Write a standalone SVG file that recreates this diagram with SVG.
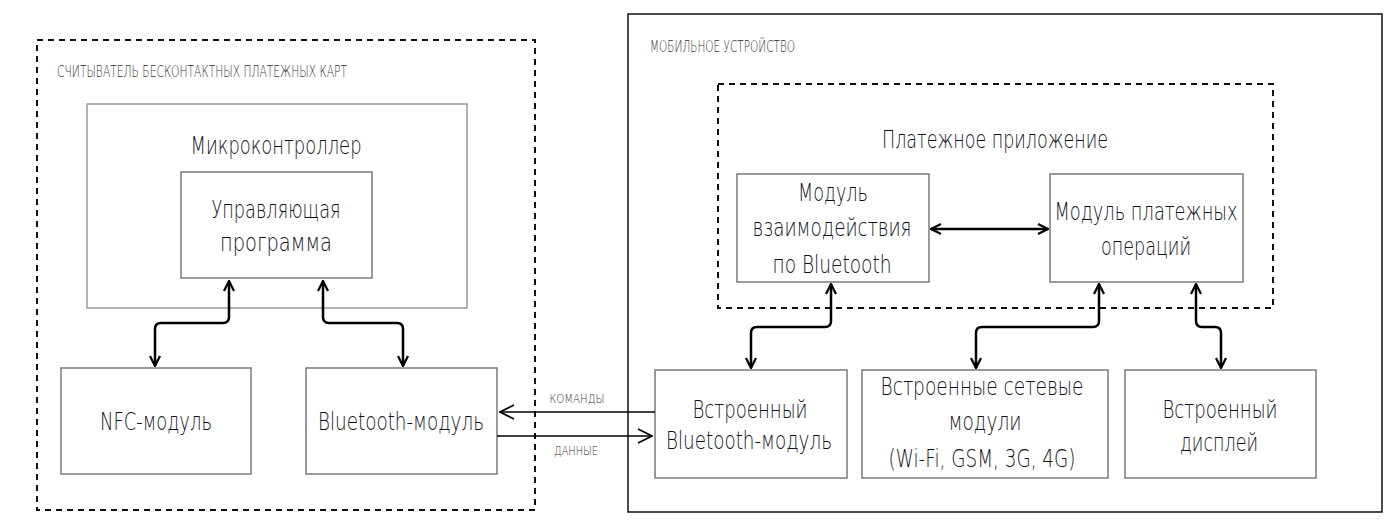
<svg xmlns="http://www.w3.org/2000/svg" width="1388" height="527" viewBox="0 0 1388 527">
<style>
text{font-family:"DejaVu Sans","Liberation Sans Narrow","Liberation Sans",sans-serif;fill:#111122;}
.t{font-size:24px;text-anchor:middle;font-weight:200;}
.s{font-size:16px;fill:#333;font-weight:200;}
.sm{font-size:13px;fill:#333;text-anchor:middle;font-weight:200;}
.box{fill:#fff;stroke:#666;stroke-width:1.3;}
.lbox{fill:#fff;stroke:#999;stroke-width:1.5;}
.dash{fill:none;stroke:#111;stroke-width:2;stroke-dasharray:6,5;}
.solid{fill:none;stroke:#111;stroke-width:1.5;}
.c{fill:none;stroke:#000;stroke-width:2.5;stroke-linejoin:round;}
.c2{fill:none;stroke:#000;stroke-width:1.5;}
</style>
<defs>
<marker id="a" viewBox="0 0 12 12" refX="11" refY="6" markerWidth="12" markerHeight="12" markerUnits="userSpaceOnUse" orient="auto-start-reverse">
<path d="M1,1 L11,6 L1,11" fill="none" stroke="#000" stroke-width="2.2"/>
</marker>
<marker id="b" viewBox="0 0 16 16" refX="15" refY="8" markerWidth="16" markerHeight="16" markerUnits="userSpaceOnUse" orient="auto-start-reverse">
<path d="M1,1 L15,8 L1,15" fill="none" stroke="#000" stroke-width="1.6"/>
</marker>
</defs>
<rect width="1388" height="527" fill="#fff"/>

<g id="reader">
<rect x="37" y="40" width="498" height="470" class="dash"/>
<text x="57" y="77" class="s" textLength="290" lengthAdjust="spacingAndGlyphs">СЧИТЫВАТЕЛЬ БЕСКОНТАКТНЫХ ПЛАТЕЖНЫХ КАРТ</text>
</g>
<g id="mcu">
<rect x="87" y="104" width="380" height="204" class="lbox"/>
<text x="276" y="154" class="t" textLength="171" lengthAdjust="spacingAndGlyphs">Микроконтроллер</text>
</g>
<g id="program">
<rect x="181" y="172" width="191" height="106" class="box"/>
<text x="276" y="218" class="t" textLength="129" lengthAdjust="spacingAndGlyphs">Управляющая</text>
<text x="276" y="251" class="t" textLength="112" lengthAdjust="spacingAndGlyphs">программа</text>
</g>
<g id="nfc">
<rect x="61" y="368" width="190" height="106" class="box"/>
<text x="156" y="430" class="t" textLength="112" lengthAdjust="spacingAndGlyphs">NFC-модуль</text>
</g>
<g id="bt">
<rect x="306" y="368" width="191" height="106" class="box"/>
<text x="401" y="430" class="t" textLength="166" lengthAdjust="spacingAndGlyphs">Bluetooth-модуль</text>
</g>

<g id="mobile">
<rect x="628" y="14" width="754" height="498" class="solid"/>
<text x="650" y="52" class="s" font-size="15" textLength="145" lengthAdjust="spacingAndGlyphs">МОБИЛЬНОЕ УСТРОЙСТВО</text>
</g>
<g id="app">
<rect x="718" y="84" width="555" height="224" class="dash"/>
<text x="995" y="148" class="t" textLength="226" lengthAdjust="spacingAndGlyphs">Платежное приложение</text>
</g>
<g id="btmod">
<rect x="737" y="174" width="192" height="108" class="box"/>
<text x="833" y="201" class="t" textLength="70" lengthAdjust="spacingAndGlyphs">Модуль</text>
<text x="832" y="236" class="t" textLength="159" lengthAdjust="spacingAndGlyphs">взаимодействия</text>
<text x="832" y="273" class="t" textLength="119" lengthAdjust="spacingAndGlyphs">по Bluetooth</text>
</g>
<g id="payops">
<rect x="1050" y="174" width="193" height="108" class="box"/>
<text x="1146" y="220" class="t" textLength="183" lengthAdjust="spacingAndGlyphs">Модуль платежных</text>
<text x="1146" y="255" class="t" textLength="90" lengthAdjust="spacingAndGlyphs">операций</text>
</g>
<g id="btbuiltin">
<rect x="655" y="370" width="192" height="108" class="box"/>
<text x="750" y="418" class="t" textLength="115" lengthAdjust="spacingAndGlyphs">Встроенный</text>
<text x="749" y="449" class="t" textLength="166" lengthAdjust="spacingAndGlyphs">Bluetooth-модуль</text>
</g>
<g id="net">
<rect x="862" y="370" width="246" height="108" class="box"/>
<text x="982" y="395" class="t" textLength="203" lengthAdjust="spacingAndGlyphs">Встроенные сетевые</text>
<text x="985" y="430" class="t" textLength="73" lengthAdjust="spacingAndGlyphs">модули</text>
<text x="982" y="467" class="t" textLength="187" lengthAdjust="spacingAndGlyphs">(Wi-Fi, GSM, 3G, 4G)</text>
</g>
<g id="display">
<rect x="1125" y="370" width="191" height="108" class="box"/>
<text x="1220" y="418" class="t" textLength="115" lengthAdjust="spacingAndGlyphs">Встроенный</text>
<text x="1219" y="451" class="t" textLength="78" lengthAdjust="spacingAndGlyphs">дисплей</text>
</g>

<g id="connectors">
<path d="M229,281 V317 Q229,323 223,323 H161 Q155,323 155,329 V366" class="c" marker-start="url(#a)" marker-end="url(#a)"/>
<path d="M323,281 V317 Q323,323 329,323 H397 Q403,323 403,329 V366" class="c" marker-start="url(#a)" marker-end="url(#a)"/>
<path d="M655,412 H500" class="c2" marker-end="url(#b)"/>
<path d="M497,436 H652" class="c2" marker-end="url(#b)"/>
<text x="577" y="403" class="sm" textLength="55" lengthAdjust="spacingAndGlyphs">КОМАНДЫ</text>
<text x="576" y="455" class="sm" textLength="44" lengthAdjust="spacingAndGlyphs">ДАННЫЕ</text>
<path d="M931,229 H1048" class="c" marker-start="url(#a)" marker-end="url(#a)"/>
<path d="M831,284 V321 Q831,327 825,327 H757 Q751,327 751,333 V368" class="c" marker-start="url(#a)" marker-end="url(#a)"/>
<path d="M1099,284 V321 Q1099,327 1093,327 H982 Q976,327 976,333 V368" class="c" marker-start="url(#a)" marker-end="url(#a)"/>
<path d="M1196,284 V321 Q1196,327 1202,327 H1215 Q1221,327 1221,333 V368" class="c" marker-start="url(#a)" marker-end="url(#a)"/>
</g>
</svg>
